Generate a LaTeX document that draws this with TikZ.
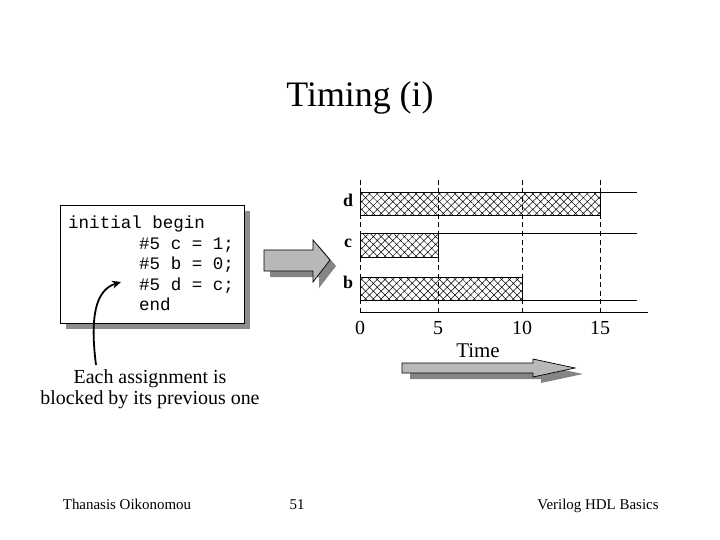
\documentclass[tikz,border=0pt]{standalone}
\usepackage{fontspec}
\setmainfont{Liberation Serif}
\setmonofont{Liberation Mono}
\usetikzlibrary{patterns.meta,arrows.meta}

\begin{document}
\begin{tikzpicture}[x=1bp,y=-1bp,
  codeline/.style={anchor=base west,inner sep=0pt,font=\ttfamily\fontsize{17.6}{20}\selectfont},
  siglabel/.style={anchor=base,inner sep=0pt,font=\bfseries\fontsize{18}{20}\selectfont},
  ticklabel/.style={anchor=base,inner sep=0pt,font=\fontsize{20}{22}\selectfont},
  notetext/.style={anchor=base,inner sep=0pt,font=\fontsize{20}{24}\selectfont},
  foottext/.style={anchor=base,inner sep=0pt,font=\fontsize{15}{18}\selectfont},
  hatchbar/.style={line width=1bp,pattern={Hatch[angle=45,distance=5.5bp,line width=.5bp]}},
  sigline/.style={line width=1bp},
  gridline/.style={line width=1bp,dash pattern=on 5bp off 3.5bp},
  blockfill/.style={fill=black!28,draw=black,line width=.7bp},
  shadowfill/.style={fill=black!48}]
\path[use as bounding box] (0,0) rectangle (720,540);

% title
\node[anchor=base,inner sep=0pt,font=\fontsize{36}{40}\selectfont] (title) at (360,107) {Timing (i)};

% code box with shadow
\fill[black!45] (66,211) rectangle (250,329);
\draw[fill=white,line width=.8bp] (60,205) rectangle (244,323);
\node[codeline] (code1) at (68,229) {initial begin};
\node[codeline] (code2) at (139,250) {\#5 c = 1;};
\node[codeline] (code3) at (139,270) {\#5 b = 0;};
\node[codeline] (code4) at (139,290) {\#5 d = c;};
\node[codeline] (code5) at (139,310) {end};

% block arrow
\fill[shadowfill,shift={(6,6)}] (264,250)--(313,250)--(313,240)--(330,260)--(313,282)--(313,271)--(264,271)--cycle;
\draw[blockfill] (264,250)--(313,250)--(313,240)--(330,260)--(313,282)--(313,271)--(264,271)--cycle;

% timing diagram
\foreach \x/\t in {360/0,438/5,522/10,600/15}{
  \draw[gridline] (\x,180) -- (\x,316);
  \node[ticklabel] (tick\t) at (\x,334) {\t};
}
\draw[hatchbar] (360,193) rectangle (600,216);
\draw[sigline] (600,193) -- (637,193);
\draw[hatchbar] (360,234) rectangle (438,258);
\draw[sigline] (438,234) -- (637,234);
\draw[hatchbar] (360,277) rectangle (522,300);
\draw[sigline] (522,300) -- (637,300);
\draw[sigline] (360,312) -- (648,312);
\node[siglabel] (sigd) at (348,207) {d};
\node[siglabel] (sigc) at (348,248) {c};
\node[siglabel] (sigb) at (348,288) {b};

% time arrow
\node[anchor=base,inner sep=0pt,font=\fontsize{21}{24}\selectfont] (timelbl) at (478,357) {Time};
\fill[shadowfill,shift={(8,6)}] (402,363)--(533,363)--(533,359)--(575,368)--(533,377)--(533,373)--(402,373)--cycle;
\draw[blockfill] (402,363)--(533,363)--(533,359)--(575,368)--(533,377)--(533,373)--(402,373)--cycle;

% note
\node[notetext] (note1) at (150,383) {Each assignment is};
\node[notetext] (note2) at (150,404) {blocked by its previous one};
\coordinate (tail) at (96,365);
\coordinate (tip) at (121,282);
\draw[line width=1.8bp,-{Stealth[length=9bp,width=8bp]}] (tail) .. controls (90,318) and (95,290) .. (tip);

% footer
\node[foottext] (author) at (127,509) {Thanasis Oikonomou};
\node[foottext] (page) at (297,509) {51};
\node[foottext] (course) at (598,509) {Verilog HDL Basics};
\end{tikzpicture}
\end{document}
